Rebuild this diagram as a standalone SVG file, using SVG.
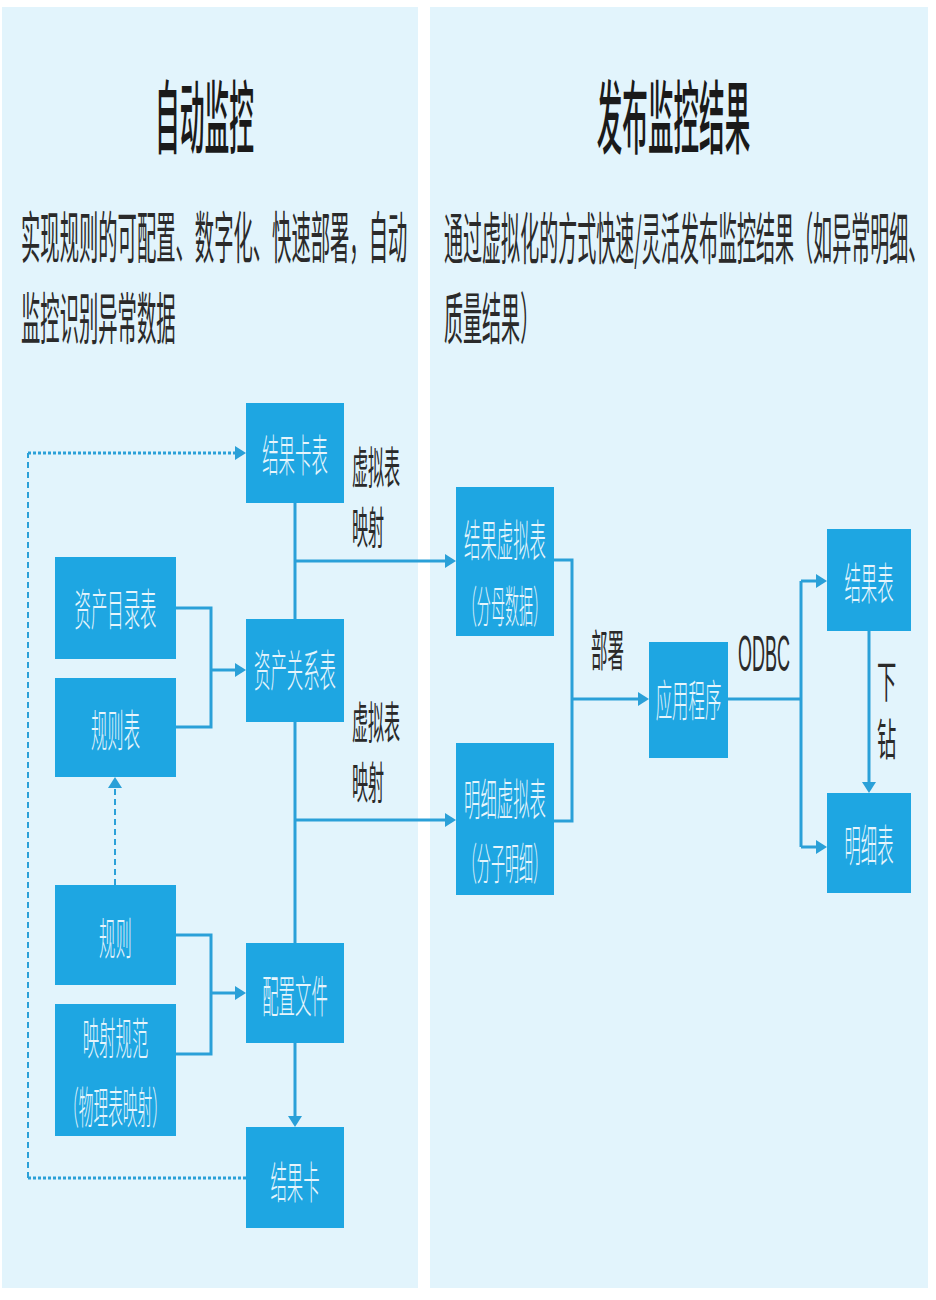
<svg xmlns="http://www.w3.org/2000/svg" width="936" height="1300" viewBox="0 0 936 1300">
<style>
.panel{fill:#e2f4fc}
.box{fill:#1ea6e2}
.bt{font-family:"Noto Sans CJK SC","Noto Sans",sans-serif;font-size:44px;font-weight:300;fill:#e6f5fc;text-anchor:middle;dominant-baseline:central}
.title{font-family:"Noto Sans CJK SC","Noto Sans",sans-serif;font-size:80px;font-weight:500;fill:#1a1a1a;text-anchor:middle;dominant-baseline:central}
.sub{font-family:"Noto Sans CJK SC","Noto Sans",sans-serif;font-size:56px;fill:#2a2a2a;dominant-baseline:central}
.lbl{font-family:"Noto Sans CJK SC","Noto Sans",sans-serif;font-size:44px;fill:#2a2a2a;dominant-baseline:central}
.ln{fill:none;stroke:#2aa0d8;stroke-width:3}
.arr{marker-end:url(#ah)}
.dot{fill:none;stroke:#2aa0d8;stroke-width:3;stroke-dasharray:3 2}
.dash{fill:none;stroke:#2aa0d8;stroke-width:2;stroke-dasharray:6 4}
</style>
<defs>
<marker id="ah" markerUnits="userSpaceOnUse" markerWidth="12" markerHeight="14" refX="7" refY="7" orient="auto">
<path d="M0,0 L11,7 L0,14 z" fill="#2aa0d8"/>
</marker>
</defs>
<rect width="936" height="1300" fill="#ffffff"/>
<rect class="panel" x="2" y="7" width="416" height="1281"/>
<rect class="panel" x="430" y="7" width="498" height="1281"/>

<g id="headers">
<text class="title" transform="translate(204.5,112) scale(0.31,1)">自动监控</text>
<text class="title" transform="translate(673.5,112) scale(0.32,1)">发布监控结果</text>
<text class="sub" transform="translate(21,233) scale(0.345,1)">实现规则的可配置、数字化、快速部署，自动</text>
<text class="sub" transform="translate(21,314) scale(0.345,1)">监控识别异常数据</text>
<text class="sub" transform="translate(444,234) scale(0.34,1)">通过虚拟化的方式快速/灵活发布监控结果（如异常明细、</text>
<text class="sub" transform="translate(444,314) scale(0.34,1)">质量结果）</text>
</g>

<g id="connectors">
<path class="ln" d="M295,503 V619"/>
<path class="ln" d="M295,722 V943"/>
<path class="ln arr" d="M295,1043 V1123"/>
<path class="ln arr" d="M295,561 H452"/>
<path class="ln arr" d="M295,820 H452"/>
<path class="ln" d="M176,608 H211 V727 H176"/>
<path class="ln arr" d="M211,670 H242"/>
<path class="ln" d="M176,935 H211 V1054 H176"/>
<path class="ln arr" d="M211,993 H242"/>
<path class="dash arr" d="M115,885 V781"/>
<path class="dot" d="M246,1178 H28"/>
<path class="dash" d="M28,1178 V453"/>
<path class="dot arr" d="M28,453 H242"/>
<path class="ln" d="M554,560 H572 V821 H554"/>
<path class="ln arr" d="M572,699 H645"/>
<path class="ln" d="M728,699 H801"/>
<path class="ln" d="M801,581 V847"/>
<path class="ln arr" d="M801,581 H823"/>
<path class="ln arr" d="M801,847 H823"/>
<path class="ln arr" d="M869,631 V789"/>
<text class="lbl" transform="translate(352,465) scale(0.365,1)">虚拟表</text>
<text class="lbl" transform="translate(352,525) scale(0.365,1)">映射</text>
<text class="lbl" transform="translate(352,720) scale(0.365,1)">虚拟表</text>
<text class="lbl" transform="translate(352,780) scale(0.365,1)">映射</text>
<text class="lbl" transform="translate(591,648) scale(0.375,1)">部署</text>
<text font-family="Liberation Sans, Arial, sans-serif" font-size="50" fill="#2a2a2a" transform="translate(738,671) scale(0.36,1)">ODBC</text>
<text class="lbl" font-size="38" transform="translate(877,679) scale(0.44,1)">下</text>
<text class="lbl" font-size="38" transform="translate(877,737) scale(0.44,1)">钻</text>
</g>

<g id="n-jieguokabiao"><rect class="box" x="246" y="403" width="98" height="100"/><text class="bt" transform="translate(295,453) scale(0.373,1)">结果卡表</text></g>
<g id="n-zichanmulu"><rect class="box" x="55" y="557" width="121" height="102"/><text class="bt" transform="translate(115.5,607) scale(0.373,1)">资产目录表</text></g>
<g id="n-guizebiao"><rect class="box" x="55" y="678" width="121" height="99"/><text class="bt" transform="translate(115.5,728) scale(0.373,1)">规则表</text></g>
<g id="n-zichanguanxi"><rect class="box" x="246" y="619" width="98" height="103"/><text class="bt" transform="translate(295,668) scale(0.373,1)">资产关系表</text></g>
<g id="n-guize"><rect class="box" x="55" y="885" width="121" height="100"/><text class="bt" transform="translate(115.5,936) scale(0.373,1)">规则</text></g>
<g id="n-yingshe"><rect class="box" x="55" y="1004" width="121" height="132"/><text class="bt" transform="translate(115.5,1036) scale(0.373,1)">映射规范</text><text class="bt" transform="translate(115.5,1105) scale(0.335,1)">（物理表映射）</text></g>
<g id="n-peizhi"><rect class="box" x="246" y="943" width="98" height="100"/><text class="bt" transform="translate(295,994) scale(0.373,1)">配置文件</text></g>
<g id="n-jieguoka"><rect class="box" x="246" y="1127" width="98" height="101"/><text class="bt" transform="translate(295,1180) scale(0.373,1)">结果卡</text></g>
<g id="n-jieguoxuni"><rect class="box" x="456" y="487" width="98" height="149"/><text class="bt" transform="translate(505,538) scale(0.373,1)">结果虚拟表</text><text class="bt" transform="translate(505,603) scale(0.32,1)">（分母数据）</text></g>
<g id="n-mingxixuni"><rect class="box" x="456" y="743" width="98" height="152"/><text class="bt" transform="translate(505,797) scale(0.373,1)">明细虚拟表</text><text class="bt" transform="translate(505,860) scale(0.32,1)">（分子明细）</text></g>
<g id="n-yingyong"><rect class="box" x="649" y="642" width="79" height="116"/><text class="bt" transform="translate(688.5,698) scale(0.373,1)">应用程序</text></g>
<g id="n-jieguobiao"><rect class="box" x="827" y="529" width="84" height="102"/><text class="bt" transform="translate(869,581) scale(0.373,1)">结果表</text></g>
<g id="n-mingxibiao"><rect class="box" x="827" y="793" width="84" height="100"/><text class="bt" transform="translate(869,843) scale(0.373,1)">明细表</text></g>
</svg>
